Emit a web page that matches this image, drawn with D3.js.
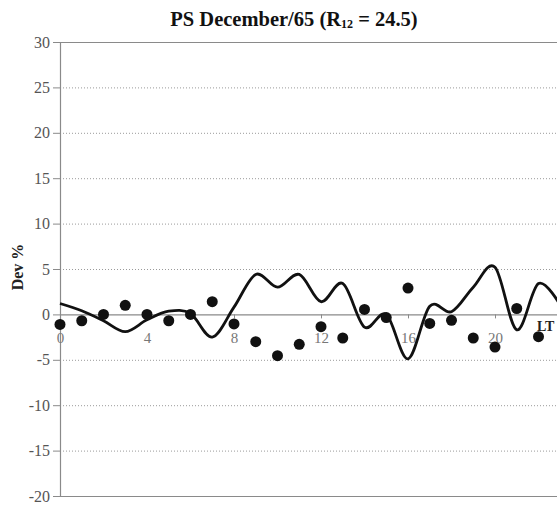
<!DOCTYPE html>
<html>
<head>
<meta charset="utf-8">
<script src="https://cdn.jsdelivr.net/npm/d3@7"></script>
<style>
  html, body { margin: 0; padding: 0; background: #fff; }
  svg { display: block; }
</style>
</head>
<body>
<div id="chart"></div>
<script>
// Local-time hours for the observations and the model curve
const hours = d3.range(0, 24);
// Model deviation curve (%), one value per hour
const modelDev = [1.2, 0.4, -0.7, -1.9, -0.6, 0.35, 0.1, -2.5, 0.8, 4.4, 3.0, 4.4,
                  1.4, 3.4, -1.4, 0.0, -4.9, 0.9, 0.3, 3.0, 5.2, -1.7, 3.4, 1.0];
// Observed deviations (%), one value per hour
const obsDev = [-1.1, -0.7, 0.0, 1.0, 0.0, -0.7, 0.0, 1.4, -1.05, -3.0, -4.55, -3.3,
                -1.35, -2.6, 0.55, -0.35, 2.9, -1.0, -0.65, -2.6, -3.6, 0.65, -2.45];
const yTicks = [-20, -15, -10, -5, 0, 5, 10, 15, 20, 25, 30];
const xTicks = [0, 4, 8, 12, 16, 20];

const W = 557, H = 506;
const svg = d3.select("#chart").append("svg")
  .attr("width", W).attr("height", H)
  .style("font-family", "'Liberation Serif', 'Times New Roman', serif");

const x = d3.scaleLinear().domain([0, 24]).range([60, 582]);
const y = d3.scaleLinear().domain([-20, 30]).range([496, 42]);

// Dotted horizontal grid
svg.append("g").selectAll("line")
  .data(yTicks.filter(d => d !== 0 && d !== 30 && d !== -20))
  .join("line")
  .attr("x1", x(0)).attr("x2", W)
  .attr("y1", d => y(d) + 0.5).attr("y2", d => y(d) + 0.5)
  .attr("stroke", "#9a9a9a").attr("stroke-width", 1)
  .attr("stroke-dasharray", "1,2");

// Solid top and bottom frame lines
[30, -20].forEach(v => {
  svg.append("line")
    .attr("x1", x(0)).attr("x2", W)
    .attr("y1", y(v) + 0.5).attr("y2", y(v) + 0.5)
    .attr("stroke", "#8a8a8a").attr("stroke-width", 1.2);
});

// Y axis
const yAxis = svg.append("g")
  .attr("transform", `translate(${x(0)},0)`)
  .call(d3.axisLeft(y).tickValues(yTicks).tickSize(7).tickPadding(3)
    .tickFormat(d => String(d)));
yAxis.select(".domain").attr("stroke", "#8a8a8a").attr("stroke-width", 1.2);
yAxis.selectAll(".tick line").attr("stroke", "#8a8a8a");
yAxis.selectAll(".tick text")
  .attr("fill", "#555").style("font-size", "16px")
  .style("font-family", "'Liberation Serif', serif");

// X axis along the zero line
const xAxis = svg.append("g")
  .attr("transform", `translate(0,${y(0)})`)
  .call(d3.axisBottom(x).tickValues(xTicks).tickSize(4).tickPadding(14)
    .tickFormat(d3.format("d")));
xAxis.select(".domain").attr("stroke", "#8a8a8a").attr("stroke-width", 1.2)
  .attr("d", `M${x(0)},0.5H${W}`);
xAxis.selectAll(".tick line").attr("stroke", "#8a8a8a");
xAxis.selectAll(".tick text")
  .attr("fill", "#777").style("font-size", "15px")
  .style("font-family", "'Liberation Serif', serif");

// Model curve (smoothed)
const line = d3.line()
  .x((d, i) => x(hours[i]))
  .y(d => y(d))
  .curve(d3.curveCardinal.tension(0));
svg.append("path")
  .datum(modelDev)
  .attr("d", line)
  .attr("fill", "none")
  .attr("stroke", "#111")
  .attr("stroke-width", 2.8)
  .attr("stroke-linejoin", "round");

// Observation dots
svg.append("g").selectAll("circle")
  .data(obsDev)
  .join("circle")
  .attr("cx", (d, i) => x(hours[i]))
  .attr("cy", d => y(d))
  .attr("r", 5.5)
  .attr("fill", "#111");

// X axis title
svg.append("text")
  .attr("x", 537).attr("y", 331)
  .style("font-size", "14px").style("font-weight", "bold")
  .attr("fill", "#222")
  .text("LT");

// Y axis title
svg.append("text")
  .attr("transform", `translate(23,267) rotate(-90)`)
  .attr("text-anchor", "middle")
  .style("font-size", "16px").style("font-weight", "bold")
  .attr("fill", "#222")
  .text("Dev %");

// Chart title with subscript
const title = svg.append("text")
  .attr("x", 294).attr("y", 26)
  .attr("text-anchor", "middle")
  .style("font-size", "20.5px").style("font-weight", "bold")
  .attr("fill", "#111");
title.append("tspan").text("PS December/65 (R");
title.append("tspan").style("font-size", "12px").attr("dy", 2).text("12");
title.append("tspan").attr("dy", -2).text(" = 24.5)");
</script>
</body>
</html>
